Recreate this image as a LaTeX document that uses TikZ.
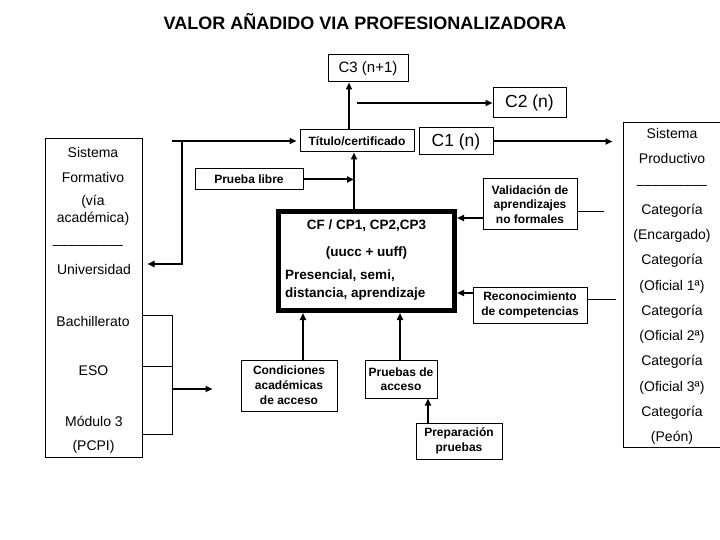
\documentclass[tikz,border=0pt]{standalone}
\usepackage{fontspec}
\setmainfont{Liberation Sans}
\usetikzlibrary{arrows.meta}

\tikzset{
  caja/.style={draw, line width=1pt, align=center, inner sep=0pt},
  negrita/.style={font=\bfseries\fontsize{12}{14.5}\selectfont},
  texto/.style={font=\fontsize{14}{17}\selectfont, inner sep=0pt, align=center},
  cftexto/.style={font=\bfseries\fontsize{13.5}{18}\selectfont, inner sep=0pt},
  flecha/.style={line width=2pt, -{Triangle[length=7pt,width=6pt]}},
  linea/.style={line width=1pt}
}

\begin{document}
\begin{tikzpicture}[x=1pt,y=-1pt]
    \useasboundingbox (0,0) rectangle (720,540);
    \node[font=\bfseries\fontsize{18}{20}\selectfont] (titulo) at (365,22) {VALOR AÑADIDO VIA PROFESIONALIZADORA};

    \node[caja, minimum width=80pt, minimum height=27pt, font=\fontsize{15}{17}\selectfont] (c3) at (368,68.5) {C3 (n+1)};
    \node[caja, minimum width=73pt, minimum height=30pt, font=\fontsize{17.5}{20}\selectfont] (c2) at (529.5,103) {C2 (n)};
    \node[caja, minimum width=74pt, minimum height=27pt, font=\fontsize{17.5}{20}\selectfont] (c1) at (456,141.5) {C1 (n)};
    \node[caja, negrita, minimum width=114pt, minimum height=22pt] (titcert) at (357,141) {Título/certificado};
    \node[caja, negrita, minimum width=108pt, minimum height=21pt] (plibre) at (249,179.5) {Prueba libre};
    \node[caja, negrita, minimum width=94pt, minimum height=51pt] (valid) at (530,204.5) {Validación de\\aprendizajes\\no formales};
    \node[caja, negrita, minimum width=114pt, minimum height=36pt] (recon) at (530,305) {Reconocimiento\\de competencias};
    \node[caja, negrita, minimum width=96pt, minimum height=51pt, font=\bfseries\fontsize{12}{15}\selectfont] (condic) at (289,385.5) {Condiciones\\académicas\\de acceso};
    \node[caja, negrita, minimum width=72pt, minimum height=38pt] (pruebas) at (401,379) {Pruebas de\\acceso};
    \node[caja, negrita, minimum width=86pt, minimum height=36pt] (prepar) at (459,441) {Preparación\\pruebas};

    \node[draw, line width=5pt, minimum width=176pt, minimum height=99pt, inner sep=0pt] (cf) at (366.5,261) {};
    \node[cftexto] (cfa) at (366.5,226) {CF / CP1, CP2,CP3};
    \node[cftexto] (cfb) at (366.5,253) {(uucc + uuff)};
    \node[cftexto, anchor=west, align=left] (cfc) at (285,285) {Presencial, semi,\\distancia, aprendizaje};

    \node[caja, minimum width=97pt, minimum height=318pt] (sform) at (93.5,298) {};
    \node[texto] (sfa) at (93,152) {Sistema};
    \node[texto] (sfb) at (93,177) {Formativo};
    \node[texto] (sfc) at (93,210.5) {(vía\\académica)};
    \node[texto] (sfd) at (88,247) {–––––––––};
    \node[texto] (sfe) at (94,269) {Universidad};
    \node[texto] (sff) at (93,321) {Bachillerato};
    \node[texto] (sfg) at (93.5,371) {ESO};
    \node[texto] (sfh) at (94,421) {Módulo 3};
    \node[texto] (sfi) at (93.5,447) {(PCPI)};

    \node[caja, minimum width=102pt, minimum height=324pt] (sprod) at (674,285) {};
    \node[texto, font=\fontsize{14}{25.25}\selectfont] (sptxt) at (672,286.5) {Sistema\\Productivo\\–––––––––\\Categoría\\(Encargado)\\Categoría\\(Oficial 1ª)\\Categoría\\(Oficial 2ª)\\Categoría\\(Oficial 3ª)\\Categoría\\(Peón)};

    \coordinate (tA) at ([xshift=-8pt]titcert.north);
    \coordinate (tB) at (357,103);
    \coordinate (tC) at ([xshift=-3pt]titcert.south);
    \coordinate (sA) at (172,141);
    \coordinate (sB) at (182,141);
    \coordinate (bA) at (172,315);
    \coordinate (bB) at (172,366);
    \coordinate (bC) at (172,434);
    \coordinate (bD) at (172,389);
    \coordinate (vS) at (604,212);
    \coordinate (rS) at (616,299);

    \draw[flecha] (tA) -- (tA |- c3.south);
    \draw[flecha] (tB) -- (c2.west);
    \draw[flecha, shorten >=10pt] (c1.east) -- (c1.east -| sprod.west);
    \draw[flecha, shorten >=3pt] (sA) -- (titcert.west);
    \draw[flecha, shorten >=5pt] (sB) |- (sform.east |- 0,264);
    \draw[flecha] (plibre.east) -- (plibre.east -| tC);
    \draw[flecha] (tC |- cf.north) -- (tC);
    \draw[flecha] ([yshift=-13.5pt]valid.west) -- ([yshift=-13.5pt]valid.west -| cf.east);
    \draw[flecha] ([yshift=12pt]recon.west) -- ([yshift=12pt]recon.west -| cf.east);
    \draw[linea] (valid.east |- vS) -- (vS);
    \draw[linea] (recon.east |- rS) -- (rS);
    \draw[linea] (sform.east |- bA) -- (bA) -- (bC) -- (sform.east |- bC);
    \draw[linea] (sform.east |- bB) -- (bB);
    \draw[flecha, shorten >=28pt] (bD) -- (bD -| condic.west);
    \draw[flecha] ([xshift=14pt]condic.north) -- ([xshift=14pt]condic.north |- cf.south);
    \draw[flecha] ([xshift=-1pt]pruebas.north) -- ([xshift=-1pt]pruebas.north |- cf.south);
    \draw[flecha] ([xshift=-31pt]prepar.north) -- ([xshift=-31pt]prepar.north |- pruebas.south);
\end{tikzpicture}
\end{document}
